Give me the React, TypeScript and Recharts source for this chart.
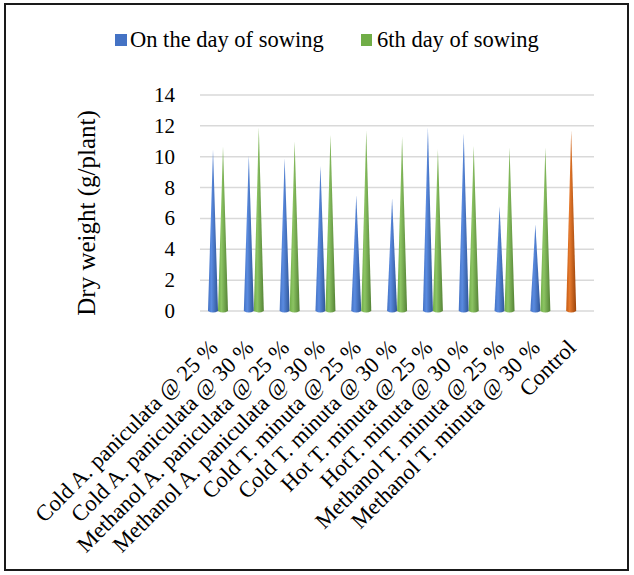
import React from "react";
import { BarChart, Bar, XAxis, YAxis, CartesianGrid, Legend } from "recharts";

const categories = [
  "Cold A. paniculata @ 25 %",
  "Cold A. paniculata @ 30 %",
  "Methanol A. paniculata @ 25 %",
  "Methanol A. paniculata @ 30 %",
  "Cold T. minuta @ 25 %",
  "Cold T. minuta @ 30 %",
  "Hot T. minuta @ 25 %",
  "HotT. minuta @ 30 %",
  "Methanol T. minuta @ 25 %",
  "Methanol T. minuta @ 30 %",
  "Control",
];
const onSowing = [10.5, 10.1, 9.9, 9.4, 7.5, 7.3, 11.9, 11.5, 6.8, 5.6, 11.7];
const sixthDay = [10.7, 11.9, 11.0, 11.4, 11.7, 11.3, 10.5, 10.7, 10.6, 10.6, null];
const yTicks = [0, 2, 4, 6, 8, 10, 12, 14];

const seriesNames = ["On the day of sowing", "6th day of sowing"];

const data = categories.map((c, i) => ({
  name: c,
  a: onSowing[i],
  b: sixthDay[i],
}));

const FONT = "Liberation Serif, Times New Roman, serif";

const palette: Record<string, [string, string, string]> = {
  blue: ["#5a8be0", "#4472C4", "#2f5597"],
  green: ["#8cc463", "#70AD47", "#548235"],
  orange: ["#e67a2e", "#C55A11", "#9c4309"],
};

let gid = 0;
const Cone = (props: any) => {
  const { x, y, width, height, colorKey, payload } = props;
  if (height == null || !isFinite(height) || height <= 0) return null;
  const key = payload && payload.name === "Control" ? "orange" : colorKey;
  const [l, m, d] = palette[key];
  const id = `cone-${key}-${gid++}`;
  const bx = x + width;
  const by = y + height;
  const path = `M ${x} ${by} L ${x + width / 2} ${y} L ${bx} ${by} Q ${x + width / 2} ${by + 3} ${x} ${by} Z`;
  return (
    <g>
      <defs>
        <linearGradient id={id} x1="0" y1="0" x2="1" y2="0">
          <stop offset="0%" stopColor={m} />
          <stop offset="35%" stopColor={l} />
          <stop offset="100%" stopColor={d} />
        </linearGradient>
      </defs>
      <path d={path} fill={`url(#${id})`} />
    </g>
  );
};

const XTick = (props: any) => {
  const { x, y, payload } = props;
  const tx = x + 1;
  const ty = y + 38;
  return (
    <text
      x={tx}
      y={ty}
      textAnchor="end"
      transform={`rotate(-45, ${tx}, ${ty})`}
      style={{ fontSize: 22.5, fontFamily: FONT }}
      fill="#000"
    >
      {payload.value}
    </text>
  );
};

const YTick = (props: any) => {
  const { x, y, payload } = props;
  return (
    <text x={x} y={y} dy={7} textAnchor="end" style={{ fontSize: 21, fontFamily: FONT }} fill="#000">
      {payload.value}
    </text>
  );
};

const LegendContent = () => (
  <svg width={634} height={30} style={{ display: "block" }}>
    <rect x={115} y={9} width={12} height={12} fill="#4472C4" />
    <text x={130} y={22} style={{ fontSize: 22.5, fontFamily: FONT }} fill="#000">
      {seriesNames[0]}
    </text>
    <rect x={361} y={9} width={11} height={12} fill="#70AD47" />
    <text x={377} y={22} style={{ fontSize: 22.5, fontFamily: FONT }} fill="#000">
      {seriesNames[1]}
    </text>
  </svg>
);

const YTitle = () => {
  const cx = 95;
  const cy = 213;
  return (
    <text
      x={cx}
      y={cy}
      textAnchor="middle"
      transform={`rotate(-90, ${cx}, ${cy})`}
      style={{ fontSize: 25, fontFamily: FONT }}
      fill="#000"
    >
      Dry weight (g/plant)
    </text>
  );
};

export default function App() {
  return (
    <div style={{ position: "absolute", left: 0, top: 0, width: 634, height: 575, background: "#fff", fontFamily: FONT }}>
      <div
        style={{
          position: "absolute",
          left: 4,
          top: 3,
          width: 621,
          height: 564,
          border: "2px solid #1a1a1a",
        }}
      />
      <div style={{ position: "absolute", left: 0, top: 0 }}>
        <BarChart
          width={634}
          height={575}
          data={data}
          margin={{ top: 65, right: 40, bottom: 0, left: 0 }}
          barSize={10}
          barGap={0}
          style={{ fontFamily: FONT }}
        >
          <CartesianGrid horizontal vertical={false} stroke="#d9d9d9" strokeWidth={1.5} />
          <XAxis
            dataKey="name"
            interval={0}
            height={264}
            axisLine={false}
            tickLine={false}
            tickSize={0}
            tickMargin={0}
            tick={<XTick />}
          />
          <YAxis
            width={200}
            domain={[0, 14]}
            ticks={yTicks}
            interval={0}
            axisLine={false}
            tickLine={false}
            tickSize={0}
            tickMargin={25}
            tick={<YTick />}
            label={<YTitle />}
          />
          <Legend
            layout="vertical"
            verticalAlign="top"
            align="center"
            content={<LegendContent />}
            wrapperStyle={{ position: "absolute", top: 25, left: 0, width: 634, height: 30 }}
          />
          <Bar dataKey="a" name={seriesNames[0]} isAnimationActive={false} shape={<Cone colorKey="blue" />} />
          <Bar dataKey="b" name={seriesNames[1]} isAnimationActive={false} shape={<Cone colorKey="green" />} />
        </BarChart>
      </div>
    </div>
  );
}
